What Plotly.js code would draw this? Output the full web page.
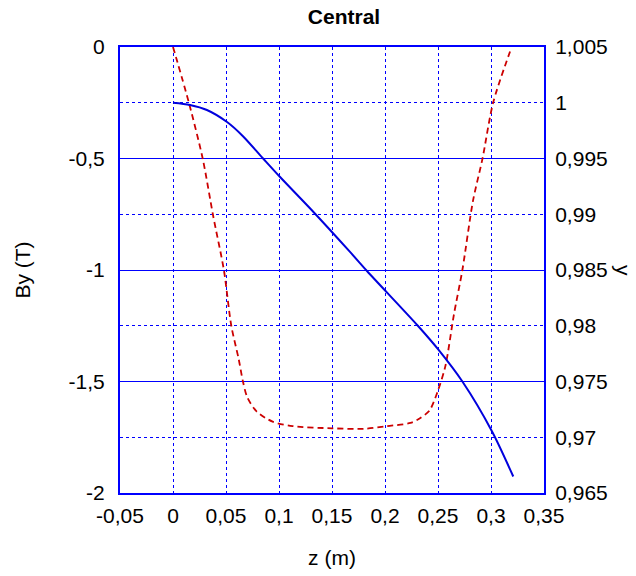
<!DOCTYPE html>
<html>
<head>
<meta charset="utf-8">
<script src="https://cdn.plot.ly/plotly-3.0.1.min.js"></script>
<style>html,body{margin:0;padding:0;background:#fff;}#chart{width:636px;height:576px;}</style>
</head>
<body>
<div id="chart"></div>
<script>
// By (T) field along z (red dashed, left axis)
const zBy = [0, 0.015, 0.028, 0.038, 0.048, 0.055, 0.062, 0.066, 0.070, 0.079, 0.094, 0.113, 0.150, 0.180, 0.202, 0.224, 0.233, 0.242, 0.250, 0.257, 0.265, 0.273, 0.283, 0.292, 0.302, 0.318];
const byVals = [0, -0.25, -0.5, -0.76, -1.0, -1.25, -1.4, -1.5, -1.57, -1.635, -1.68, -1.70, -1.71, -1.712, -1.70, -1.686, -1.665, -1.63, -1.54, -1.43, -1.2, -1.0, -0.69, -0.5, -0.25, -0.02];
// trajectory y along z (blue solid, right axis)
const zY = [0, 0.016, 0.032, 0.051, 0.066, 0.085, 0.101, 0.129, 0.167, 0.183, 0.231, 0.250, 0.273, 0.301, 0.321];
const yVals = [1.0, 0.9998, 0.99935, 0.99827, 0.9970, 0.995, 0.99334, 0.99056, 0.98662, 0.98491, 0.9800, 0.9779, 0.9750, 0.97052, 0.96648];

const xTickVals = [-0.05, 0, 0.05, 0.1, 0.15, 0.2, 0.25, 0.3, 0.35];
const xTickText = ['-0,05', '0', '0,05', '0,1', '0,15', '0,2', '0,25', '0,3', '0,35'];
const leftTickVals = [-2, -1.5, -1, -0.5, 0];
const leftTickText = ['-2', '-1,5', '-1', '-0,5', '0'];
const rightTickVals = [0.965, 0.97, 0.975, 0.98, 0.985, 0.99, 0.995, 1.0, 1.005];
const rightTickText = ['0,965', '0,97', '0,975', '0,98', '0,985', '0,99', '0,995', '1', '1,005'];

const BLUE = '#0000ff';
const FONT = 'Liberation Sans, Arial, sans-serif';

const traces = [
  {x: zBy, y: byVals, type: 'scatter', mode: 'lines', yaxis: 'y', name: 'By',
   line: {color: '#cc0000', width: 1.8, dash: '6px,4px', shape: 'spline', smoothing: 0.8}},
  {x: zY, y: yVals, type: 'scatter', mode: 'lines', yaxis: 'y2', name: 'y',
   line: {color: '#0000dd', width: 2, shape: 'spline', smoothing: 0.8}}
];

const layout = {
  width: 636, height: 576,
  margin: {l: 120, r: 92, t: 47, b: 83},
  paper_bgcolor: '#fff', plot_bgcolor: '#fff',
  showlegend: false,
  font: {family: FONT, size: 21, color: '#000'},
  title: {text: '<b>Central</b>', x: 344/636, xref: 'container', xanchor: 'center',
          y: 1 - 17/576, yref: 'container', yanchor: 'middle',
          font: {family: FONT, size: 21, color: '#000'}},
  xaxis: {
    range: [-0.05, 0.35], tickvals: xTickVals, ticktext: xTickText,
    showgrid: true, gridcolor: BLUE, griddash: 'dot', gridwidth: 1,
    showline: true, linecolor: BLUE, linewidth: 2, mirror: true,
    zeroline: false, ticks: '', ticklabelstandoff: 3,
    tickfont: {family: FONT, size: 21},
    title: {text: 'z (m)', standoff: 24, font: {family: FONT, size: 21}}
  },
  yaxis: {
    range: [-2, 0], tickvals: leftTickVals, ticktext: leftTickText,
    showgrid: true, gridcolor: BLUE, gridwidth: 1,
    showline: true, linecolor: BLUE, linewidth: 2, mirror: true,
    zeroline: false, ticks: '', ticklabelstandoff: 9,
    tickfont: {family: FONT, size: 21},
    title: {text: 'By (T)', standoff: 32, font: {family: FONT, size: 21}}
  },
  yaxis2: {
    range: [0.965, 1.005], tickvals: rightTickVals, ticktext: rightTickText,
    overlaying: 'y', side: 'right',
    showgrid: true, gridcolor: BLUE, griddash: 'dot', gridwidth: 1,
    showline: true, linecolor: BLUE, linewidth: 2,
    zeroline: false, ticks: '', ticklabelstandoff: 5,
    tickfont: {family: FONT, size: 21}
  },
  annotations: [
    {text: 'y', xref: 'paper', yref: 'paper', x: (624-120)/424, y: 0.5,
     xanchor: 'center', yanchor: 'middle', showarrow: false, textangle: 90,
     font: {family: FONT, size: 21, color: '#000'}}
  ]
};

Plotly.newPlot('chart', traces, layout, {displayModeBar: false, staticPlot: true});
</script>
</body>
</html>
